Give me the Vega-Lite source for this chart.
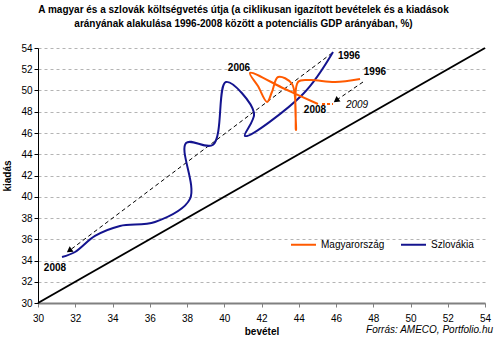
{
  "$schema": "https://vega.github.io/schema/vega-lite/v6.json",
  "width": 447,
  "height": 255,
  "autosize": {"type": "none"},
  "padding": {"left": 38, "top": 48, "right": 15, "bottom": 43},
  "background": "white",
  "title": {
    "text": ["A magyar és a szlovák költségvetés útja (a ciklikusan igazított bevételek és a kiadások", "arányának alakulása 1996-2008 között a potenciális GDP arányában, %)"],
    "font": "Liberation Sans",
    "fontSize": 10,
    "fontWeight": "bold",
    "anchor": "middle",
    "dx": -18,
    "offset": 14,
    "lineHeight": 14,
    "color": "#000"
  },
  "config": {
    "view": {"stroke": null},
    "axis": {"labelFont": "Liberation Sans", "labelFontSize": 10, "labelColor": "#000", "labelOverlap": false, "labelFlush": false, "titleFont": "Liberation Sans", "titleFontSize": 10, "titleFontWeight": "bold", "titleColor": "#000"},
    "text": {"font": "Liberation Sans"}
  },
  "datasets": {
    "series": [
      {"orszag": "Szlovákia", "ev": 1996, "bevetel": 45.84, "kiadas": 53.62},
      {"orszag": "Szlovákia", "ev": 1997, "bevetel": 44.23, "kiadas": 49.67},
      {"orszag": "Szlovákia", "ev": 1998, "bevetel": 41.11, "kiadas": 45.72},
      {"orszag": "Szlovákia", "ev": 1999, "bevetel": 41.6, "kiadas": 47.88},
      {"orszag": "Szlovákia", "ev": 2000, "bevetel": 40.09, "kiadas": 50.8},
      {"orszag": "Szlovákia", "ev": 2001, "bevetel": 39.4, "kiadas": 44.9},
      {"orszag": "Szlovákia", "ev": 2002, "bevetel": 37.95, "kiadas": 45.06},
      {"orszag": "Szlovákia", "ev": 2003, "bevetel": 38.16, "kiadas": 39.8},
      {"orszag": "Szlovákia", "ev": 2004, "bevetel": 36.28, "kiadas": 37.62},
      {"orszag": "Szlovákia", "ev": 2005, "bevetel": 34.4, "kiadas": 37.25},
      {"orszag": "Szlovákia", "ev": 2006, "bevetel": 33.06, "kiadas": 36.31},
      {"orszag": "Szlovákia", "ev": 2007, "bevetel": 31.99, "kiadas": 34.8},
      {"orszag": "Szlovákia", "ev": 2008, "bevetel": 31.29, "kiadas": 34.33},
      {"orszag": "Magyarország", "ev": 1996, "bevetel": 47.29, "kiadas": 51.08},
      {"orszag": "Magyarország", "ev": 1997, "bevetel": 45.95, "kiadas": 50.8},
      {"orszag": "Magyarország", "ev": 1998, "bevetel": 44.6, "kiadas": 50.99},
      {"orszag": "Magyarország", "ev": 1999, "bevetel": 43.96, "kiadas": 50.8},
      {"orszag": "Magyarország", "ev": 2000, "bevetel": 43.85, "kiadas": 46.28},
      {"orszag": "Magyarország", "ev": 2001, "bevetel": 43.64, "kiadas": 50.61},
      {"orszag": "Magyarország", "ev": 2002, "bevetel": 42.89, "kiadas": 51.27},
      {"orszag": "Magyarország", "ev": 2003, "bevetel": 42.56, "kiadas": 49.86},
      {"orszag": "Magyarország", "ev": 2004, "bevetel": 42.3, "kiadas": 48.92},
      {"orszag": "Magyarország", "ev": 2005, "bevetel": 41.81, "kiadas": 50.42},
      {"orszag": "Magyarország", "ev": 2006, "bevetel": 41.38, "kiadas": 51.65},
      {"orszag": "Magyarország", "ev": 2007, "bevetel": 43.26, "kiadas": 50.14},
      {"orszag": "Magyarország", "ev": 2008, "bevetel": 45.03, "kiadas": 48.73}
    ],
    "forecast": [
      {"ev": 2008, "bevetel": 45.25, "kiadas": 48.73},
      {"ev": 2009, "bevetel": 45.84, "kiadas": 48.73}
    ],
    "diagonal": [
      {"bevetel": 30, "kiadas": 30},
      {"bevetel": 54, "kiadas": 54}
    ],
    "arrows": [
      {"nyil": "SK", "pont": 1, "bevetel": 45.79, "kiadas": 53.53},
      {"nyil": "SK", "pont": 2, "bevetel": 31.72, "kiadas": 34.98},
      {"nyil": "HU", "pont": 1, "bevetel": 47.45, "kiadas": 50.8},
      {"nyil": "HU", "pont": 2, "bevetel": 46.05, "kiadas": 49.12}
    ],
    "heads": [
      {"nyil": "SK", "bevetel": 31.72, "kiadas": 34.98},
      {"nyil": "HU", "bevetel": 46.05, "kiadas": 49.12}
    ],
    "boldLabels": [
      {"cimke": "1996", "bevetel": 46.7, "kiadas": 53.25},
      {"cimke": "1996", "bevetel": 48.09, "kiadas": 51.74},
      {"cimke": "2006", "bevetel": 40.79, "kiadas": 52.12},
      {"cimke": "2008", "bevetel": 44.87, "kiadas": 48.16},
      {"cimke": "2008", "bevetel": 30.91, "kiadas": 33.29}
    ],
    "italicLabels": [
      {"cimke": "2009", "bevetel": 47.13, "kiadas": 48.64}
    ],
    "source": [
      {"cimke": "Forrás: AMECO, Portfolio.hu", "bevetel": 54.43, "kiadas": 27.46}
    ]
  },
  "encoding": {
    "x": {"field": "bevetel", "type": "quantitative", "scale": {"domain": [30, 54], "nice": false, "zero": false},
      "axis": {"title": "bevétel", "values": [30, 32, 34, 36, 38, 40, 42, 44, 46, 48, 50, 52, 54], "grid": false, "domainColor": "#808080", "domainWidth": 2, "tickColor": "#808080", "tickSize": 4, "labelPadding": 6, "titlePadding": 3, "labelOverlap": false}},
    "y": {"field": "kiadas", "type": "quantitative", "scale": {"domain": [30, 54], "nice": false, "zero": false},
      "axis": {"title": "kiadás", "values": [30, 32, 34, 36, 38, 40, 42, 44, 46, 48, 50, 52, 54], "grid": true, "gridDash": [3, 3], "gridColor": "#b4b4b4", "domainColor": "#000", "tickColor": "#000", "tickSize": 4, "labelPadding": 2, "titlePadding": 8, "labelOverlap": false}}
  },
  "layer": [
    {
      "data": {"name": "diagonal"},
      "mark": {"type": "line", "color": "#000", "strokeWidth": 2}
    },
    {
      "data": {"name": "arrows"},
      "mark": {"type": "line", "color": "#000", "strokeWidth": 1, "strokeDash": [4, 3]},
      "encoding": {
        "detail": {"field": "nyil"},
        "order": {"field": "pont"}
      }
    },
    {
      "data": {"name": "heads"},
      "mark": {"type": "point", "shape": "triangle", "filled": true, "color": "#000", "size": 45, "angle": 234, "opacity": 1}
    },
    {
      "data": {"name": "forecast"},
      "mark": {"type": "line", "color": "#ff5a00", "strokeWidth": 2, "strokeDash": [3, 2]},
      "encoding": {
        "order": {"field": "ev"}
      }
    },
    {
      "data": {"name": "series"},
      "mark": {"type": "line", "interpolate": "catmull-rom", "strokeWidth": 2},
      "encoding": {
        "order": {"field": "ev"},
        "color": {"field": "orszag", "type": "nominal",
          "scale": {"domain": ["Magyarország", "Szlovákia"], "range": ["#ff5a00", "#14148f"]},
          "legend": {"orient": "none", "legendX": 252, "legendY": 183, "direction": "horizontal", "title": null, "symbolType": "stroke", "symbolSize": 625, "symbolStrokeWidth": 2, "labelFont": "Liberation Sans", "labelFontSize": 10, "labelColor": "#000", "columnPadding": 12, "labelOffset": 4}}
      }
    },
    {
      "data": {"name": "boldLabels"},
      "mark": {"type": "text", "fontWeight": "bold", "fontSize": 10, "color": "#000"},
      "encoding": {
        "text": {"field": "cimke"}
      }
    },
    {
      "data": {"name": "italicLabels"},
      "mark": {"type": "text", "fontStyle": "italic", "fontSize": 10, "color": "#000"},
      "encoding": {
        "text": {"field": "cimke"}
      }
    },
    {
      "data": {"name": "source"},
      "mark": {"type": "text", "fontStyle": "italic", "fontSize": 10, "color": "#000", "align": "right", "clip": false},
      "encoding": {
        "text": {"field": "cimke"}
      }
    }
  ]
}
